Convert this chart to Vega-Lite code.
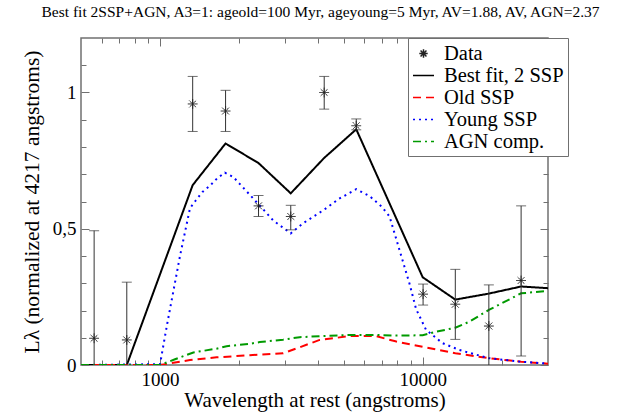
{
  "$schema": "https://vega.github.io/schema/vega-lite/v6.json",
  "width": 467,
  "height": 327,
  "autosize": {"type": "none"},
  "padding": {"left": 81, "top": 38, "right": 93, "bottom": 47},
  "background": "white",
  "title": {
    "text": "Best fit 2SSP+AGN, A3=1: ageold=100 Myr, ageyoung=5 Myr, AV=1.88, AV, AGN=2.37",
    "font": "Liberation Serif, Times New Roman, serif",
    "fontSize": 15.5,
    "fontWeight": "normal",
    "color": "black",
    "frame": "group",
    "anchor": "middle",
    "dx": 6,
    "offset": 17
  },
  "config": {
    "view": {"stroke": "#707070", "strokeWidth": 1.5},
    "font": "Liberation Serif, Times New Roman, serif",
    "axis": {
      "domain": false,
      "grid": false,
      "tickColor": "#707070",
      "tickWidth": 1,
      "labelFont": "Liberation Serif, Times New Roman, serif",
      "titleFont": "Liberation Serif, Times New Roman, serif",
      "labelColor": "black",
      "titleColor": "black",
      "titleFontWeight": "normal"
    },
    "legend": {
      "labelFont": "Liberation Serif, Times New Roman, serif"
    }
  },
  "datasets": {
    "curves": [
      {"series": "Best fit, 2 SSP", "lam": 500, "L": 0},
      {"series": "Best fit, 2 SSP", "lam": 561, "L": 0},
      {"series": "Best fit, 2 SSP", "lam": 747, "L": 0},
      {"series": "Best fit, 2 SSP", "lam": 1331, "L": 0.66},
      {"series": "Best fit, 2 SSP", "lam": 1776, "L": 0.813},
      {"series": "Best fit, 2 SSP", "lam": 2371, "L": 0.741},
      {"series": "Best fit, 2 SSP", "lam": 3145, "L": 0.63},
      {"series": "Best fit, 2 SSP", "lam": 4217, "L": 0.76},
      {"series": "Best fit, 2 SSP", "lam": 5585, "L": 0.865},
      {"series": "Best fit, 2 SSP", "lam": 10000, "L": 0.322},
      {"series": "Best fit, 2 SSP", "lam": 13310, "L": 0.24},
      {"series": "Best fit, 2 SSP", "lam": 17860, "L": 0.262},
      {"series": "Best fit, 2 SSP", "lam": 23700, "L": 0.288},
      {"series": "Best fit, 2 SSP", "lam": 30000, "L": 0.282},

      {"series": "Old SSP", "lam": 500, "L": 0},
      {"series": "Old SSP", "lam": 1000, "L": 0},
      {"series": "Old SSP", "lam": 1091, "L": 0.006},
      {"series": "Old SSP", "lam": 1300, "L": 0.018},
      {"series": "Old SSP", "lam": 1641, "L": 0.028},
      {"series": "Old SSP", "lam": 2196, "L": 0.036},
      {"series": "Old SSP", "lam": 2941, "L": 0.043},
      {"series": "Old SSP", "lam": 3400, "L": 0.065},
      {"series": "Old SSP", "lam": 4052, "L": 0.092},
      {"series": "Old SSP", "lam": 5270, "L": 0.106},
      {"series": "Old SSP", "lam": 6640, "L": 0.106},
      {"series": "Old SSP", "lam": 7940, "L": 0.086},
      {"series": "Old SSP", "lam": 10000, "L": 0.067},
      {"series": "Old SSP", "lam": 13310, "L": 0.043},
      {"series": "Old SSP", "lam": 17860, "L": 0.025},
      {"series": "Old SSP", "lam": 23700, "L": 0.012},
      {"series": "Old SSP", "lam": 30000, "L": 0.005},

      {"series": "Young SSP", "lam": 500, "L": 0},
      {"series": "Young SSP", "lam": 1000, "L": 0.003},
      {"series": "Young SSP", "lam": 1060, "L": 0.141},
      {"series": "Young SSP", "lam": 1191, "L": 0.4},
      {"series": "Young SSP", "lam": 1300, "L": 0.575},
      {"series": "Young SSP", "lam": 1358, "L": 0.6},
      {"series": "Young SSP", "lam": 1450, "L": 0.635},
      {"series": "Young SSP", "lam": 1549, "L": 0.658},
      {"series": "Young SSP", "lam": 1650, "L": 0.685},
      {"series": "Young SSP", "lam": 1765, "L": 0.706},
      {"series": "Young SSP", "lam": 1900, "L": 0.69},
      {"series": "Young SSP", "lam": 2100, "L": 0.645},
      {"series": "Young SSP", "lam": 2371, "L": 0.59},
      {"series": "Young SSP", "lam": 2700, "L": 0.53},
      {"series": "Young SSP", "lam": 3145, "L": 0.483},
      {"series": "Young SSP", "lam": 3500, "L": 0.52},
      {"series": "Young SSP", "lam": 4217, "L": 0.57},
      {"series": "Young SSP", "lam": 4800, "L": 0.61},
      {"series": "Young SSP", "lam": 5585, "L": 0.645},
      {"series": "Young SSP", "lam": 6276, "L": 0.62},
      {"series": "Young SSP", "lam": 7000, "L": 0.58},
      {"series": "Young SSP", "lam": 7480, "L": 0.545},
      {"series": "Young SSP", "lam": 8160, "L": 0.422},
      {"series": "Young SSP", "lam": 8900, "L": 0.3},
      {"series": "Young SSP", "lam": 9440, "L": 0.205},
      {"series": "Young SSP", "lam": 10300, "L": 0.129},
      {"series": "Young SSP", "lam": 11900, "L": 0.08},
      {"series": "Young SSP", "lam": 13800, "L": 0.055},
      {"series": "Young SSP", "lam": 17860, "L": 0.025},
      {"series": "Young SSP", "lam": 23700, "L": 0.012},
      {"series": "Young SSP", "lam": 30000, "L": 0.005},

      {"series": "AGN comp.", "lam": 500, "L": 0},
      {"series": "AGN comp.", "lam": 1000, "L": 0},
      {"series": "AGN comp.", "lam": 1140, "L": 0.021},
      {"series": "AGN comp.", "lam": 1339, "L": 0.046},
      {"series": "AGN comp.", "lam": 1641, "L": 0.06},
      {"series": "AGN comp.", "lam": 1792, "L": 0.069},
      {"series": "AGN comp.", "lam": 2196, "L": 0.078},
      {"series": "AGN comp.", "lam": 2397, "L": 0.084},
      {"series": "AGN comp.", "lam": 2941, "L": 0.093},
      {"series": "AGN comp.", "lam": 3400, "L": 0.102},
      {"series": "AGN comp.", "lam": 4297, "L": 0.107},
      {"series": "AGN comp.", "lam": 5270, "L": 0.11},
      {"series": "AGN comp.", "lam": 6640, "L": 0.11},
      {"series": "AGN comp.", "lam": 7940, "L": 0.108},
      {"series": "AGN comp.", "lam": 10000, "L": 0.109},
      {"series": "AGN comp.", "lam": 11250, "L": 0.122},
      {"series": "AGN comp.", "lam": 13310, "L": 0.137},
      {"series": "AGN comp.", "lam": 15060, "L": 0.159},
      {"series": "AGN comp.", "lam": 17860, "L": 0.202},
      {"series": "AGN comp.", "lam": 23700, "L": 0.263},
      {"series": "AGN comp.", "lam": 30000, "L": 0.272}
    ],
    "obs": [
      {"series": "Data", "lam": 561, "L": 0.098, "lo": -0.3, "hi": 0.493},
      {"series": "Data", "lam": 747, "L": 0.092, "lo": -0.12, "hi": 0.304},
      {"series": "Data", "lam": 1331, "L": 0.958, "lo": 0.857, "hi": 1.059},
      {"series": "Data", "lam": 1776, "L": 0.932, "lo": 0.857, "hi": 1.008},
      {"series": "Data", "lam": 2371, "L": 0.584, "lo": 0.545, "hi": 0.622},
      {"series": "Data", "lam": 3145, "L": 0.545, "lo": 0.496, "hi": 0.586},
      {"series": "Data", "lam": 4217, "L": 1.0, "lo": 0.939, "hi": 1.059},
      {"series": "Data", "lam": 5585, "L": 0.878, "lo": 0.863, "hi": 0.903},
      {"series": "Data", "lam": 10035, "L": 0.26, "lo": 0.22, "hi": 0.297},
      {"series": "Data", "lam": 13310, "L": 0.223, "lo": 0.094, "hi": 0.351},
      {"series": "Data", "lam": 17860, "L": 0.143, "lo": -0.01, "hi": 0.294},
      {"series": "Data", "lam": 23700, "L": 0.31, "lo": 0.033, "hi": 0.584}
    ]
  },
  "layer": [
    {
      "data": {"name": "curves"},
      "mark": {"type": "line", "strokeWidth": 2, "clip": true},
      "encoding": {
        "x": {
          "field": "lam", "type": "quantitative",
          "scale": {"type": "log", "domain": [500, 30000], "nice": false},
          "axis": {
            "orient": "bottom", "values": [1000, 10000], "format": "d",
            "tickSize": -8, "labelFontSize": 19, "labelPadding": 13,
            "title": "Wavelength at rest (angstroms)", "titleFontSize": 21, "titlePadding": 0
          }
        },
        "y": {
          "field": "L", "type": "quantitative",
          "scale": {"domain": [0, 1.2], "nice": false},
          "axis": {
            "orient": "left", "values": [0, 0.5, 1], "tickSize": -8, "format": ".1~f",
            "labelExpr": "replace(datum.label, '.', ',')",
            "labelFontSize": 19, "labelPadding": 13,
            "title": "Lλ (normalized at 4217 angstroms)", "titleFontSize": 21.5, "titlePadding": 9
          }
        },
        "detail": {"field": "series"},
        "color": {
          "field": "series", "type": "nominal",
          "scale": {"domain": ["Data", "Best fit, 2 SSP", "Old SSP", "Young SSP", "AGN comp."], "range": ["#222222", "#000000", "#ff0000", "#0000ff", "#009a00"]}
        },
        "strokeDash": {
          "field": "series", "type": "nominal",
          "scale": {"domain": ["Data", "Best fit, 2 SSP", "Old SSP", "Young SSP", "AGN comp."], "range": [[1, 0], [1, 0], [8, 5], [2, 4], [8, 4, 2, 4]]}
        }
      }
    },
    {
      "data": {"name": "obs"},
      "mark": {"type": "rule", "color": "#333333", "strokeWidth": 1, "clip": true},
      "encoding": {
        "x": {
          "field": "lam", "type": "quantitative",
          "scale": {"type": "log", "domain": [500, 30000], "nice": false},
          "axis": {
            "orient": "bottom", "values": [600, 700, 800, 900, 2000, 3000, 4000, 5000, 6000, 7000, 8000, 9000, 20000],
            "tickSize": -5, "labels": false, "title": null
          }
        },
        "y": {
          "field": "lo", "type": "quantitative",
          "scale": {"domain": [0, 1.2], "nice": false},
          "axis": {
            "orient": "left", "values": [0.1, 0.2, 0.3, 0.4, 0.6, 0.7, 0.8, 0.9, 1.1],
            "tickSize": -5, "labels": false, "title": null
          }
        },
        "y2": {"field": "hi"}
      }
    },
    {
      "data": {"name": "obs"},
      "mark": {"type": "tick", "orient": "horizontal", "size": 10, "thickness": 1, "color": "#333333", "clip": true},
      "encoding": {
        "x": {
          "field": "lam", "type": "quantitative",
          "scale": {"type": "log", "domain": [500, 30000], "nice": false},
          "axis": {"orient": "top", "values": [1000, 10000], "tickSize": -8, "labels": false, "title": null}
        },
        "y": {
          "field": "hi", "type": "quantitative",
          "scale": {"domain": [0, 1.2], "nice": false},
          "axis": {"orient": "right", "values": [0, 0.5, 1], "tickSize": -8, "labels": false, "title": null}
        }
      }
    },
    {
      "data": {"name": "obs"},
      "mark": {"type": "tick", "orient": "horizontal", "size": 10, "thickness": 1, "color": "#333333", "clip": true},
      "encoding": {
        "x": {
          "field": "lam", "type": "quantitative",
          "scale": {"type": "log", "domain": [500, 30000], "nice": false},
          "axis": {
            "orient": "top", "values": [600, 700, 800, 900, 2000, 3000, 4000, 5000, 6000, 7000, 8000, 9000, 20000],
            "tickSize": -5, "labels": false, "title": null
          }
        },
        "y": {
          "field": "lo", "type": "quantitative",
          "scale": {"domain": [0, 1.2], "nice": false},
          "axis": {
            "orient": "right", "values": [0.1, 0.2, 0.3, 0.4, 0.6, 0.7, 0.8, 0.9, 1.1],
            "tickSize": -5, "labels": false, "title": null
          }
        }
      }
    },
    {
      "data": {"name": "obs"},
      "mark": {"type": "point", "filled": false, "strokeWidth": 1, "size": 600, "opacity": 1},
      "encoding": {
        "x": {
          "field": "lam", "type": "quantitative",
          "scale": {"type": "log", "domain": [500, 30000], "nice": false},
          "axis": null
        },
        "y": {
          "field": "L", "type": "quantitative",
          "scale": {"domain": [0, 1.2], "nice": false},
          "axis": null
        },
        "color": {
          "field": "series", "type": "nominal",
          "scale": {"domain": ["Data", "Best fit, 2 SSP", "Old SSP", "Young SSP", "AGN comp."], "range": ["#222222", "#000000", "#ff0000", "#0000ff", "#009a00"]},
          "legend": {
            "title": null, "orient": "none", "legendX": 327, "legendY": 0,
            "labelFont": "Liberation Serif, Times New Roman, serif", "labelFontSize": 20.5, "labelColor": "black",
            "symbolSize": 441, "symbolStrokeWidth": 1.5, "labelOffset": 9,
            "strokeColor": "#707070", "fillColor": "white", "padding": 4, "rowPadding": -4.5,
            "symbolOpacity": 1
          }
        },
        "shape": {
          "field": "series", "type": "nominal",
          "scale": {"domain": ["Data", "Best fit, 2 SSP", "Old SSP", "Young SSP", "AGN comp."], "range": ["M-0.4,0L0.4,0M0,-0.4L0,0.4M-0.28,-0.28L0.28,0.28M-0.28,0.28L0.28,-0.28", "stroke", "stroke", "stroke", "stroke"]}
        },
        "strokeDash": {
          "field": "series", "type": "nominal",
          "scale": {"domain": ["Data", "Best fit, 2 SSP", "Old SSP", "Young SSP", "AGN comp."], "range": [[1, 0], [1, 0], [8, 5], [2, 4], [8, 4, 2, 4]]}
        }
      }
    }
  ],
  "resolve": {"axis": {"x": "independent", "y": "independent"}}
}
